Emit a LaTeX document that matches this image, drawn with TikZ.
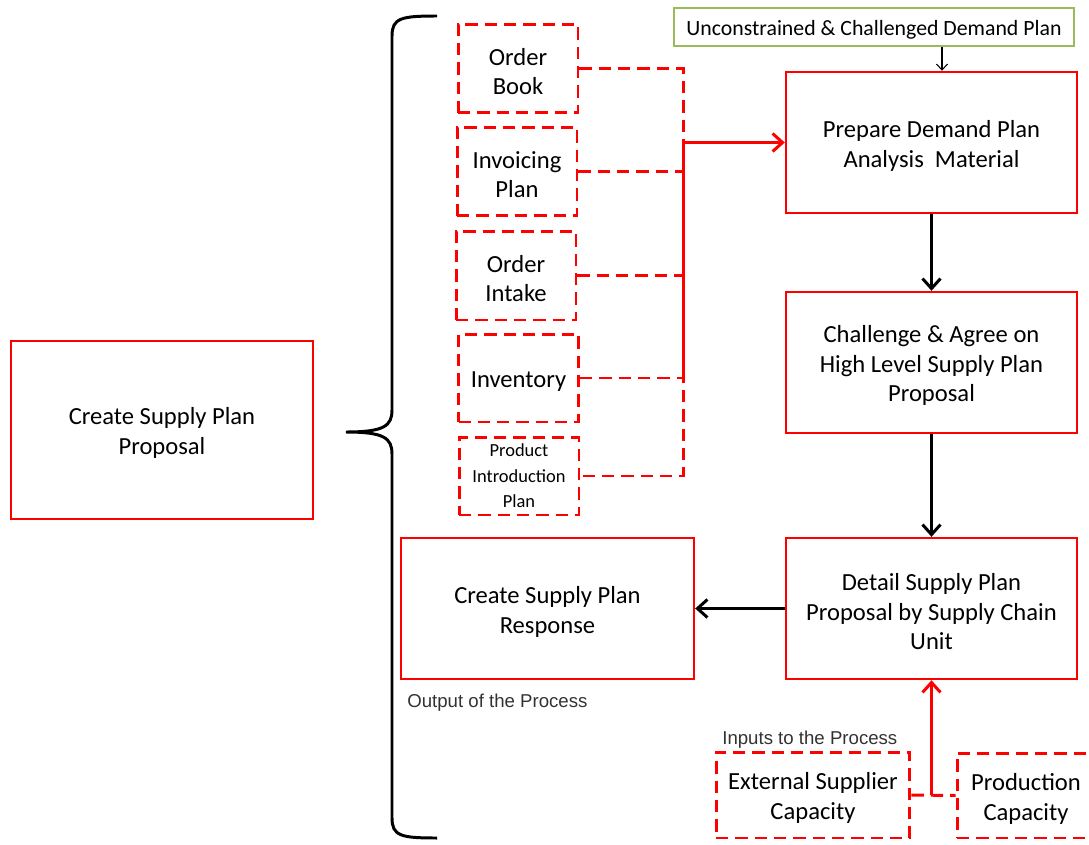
\documentclass[tikz,border=0pt]{standalone}
\usepackage{fontspec}
\setmainfont{Carlito}
\newfontfamily\notefont{Liberation Sans}
\usetikzlibrary{arrows.meta}

\definecolor{boxred}{RGB}{255,0,0}
\definecolor{planolive}{RGB}{155,187,89}
\definecolor{notegray}{RGB}{50,50,50}

\newcommand{\dropline}{\rule{0pt}{13.2pt}}

\tikzset{
  stepbox/.style={draw=boxred, line width=1.4pt, align=center, inner sep=2pt,
    font=\fontsize{14}{17}\selectfont},
  databox/.style={draw=boxred, line width=1.7pt, dash pattern=on 7pt off 4pt,
    align=center, inner sep=1pt, font=\fontsize{14}{17}\selectfont},
  dashlink/.style={draw=boxred, line width=1.7pt, dash pattern=on 7pt off 4pt},
  redlink/.style={draw=boxred, line width=1.7pt},
  flow/.style={line width=1.7pt, -{Straight Barb[length=2mm,width=3.6mm,line width=1.7pt]}},
  redflow/.style={redlink, -{Straight Barb[length=2mm,width=3.6mm,line width=1.7pt]}},
  note/.style={font=\notefont\fontsize{10.6}{12}\selectfont, text=notegray, inner sep=0pt}
}

\begin{document}
\begin{tikzpicture}[x=0.02cm, y=-0.02cm]
  \useasboundingbox (0,0) rectangle (1089,845);
  \clip (0,0) rectangle (1089,845);

  % main process
  \node[stepbox, minimum width=6.04cm, minimum height=3.56cm] (proposal) at (162,430) {\dropline Create Supply Plan\\Proposal};

  % the brace
  \draw[line width=1.7pt] (437,16) .. controls (401,16) and (392,18) .. (392,36) -- (392,410)
    .. controls (392,426) and (384,432) .. (346,432)
    .. controls (384,432) and (392,438) .. (392,454) -- (392,818)
    .. controls (392,836) and (401,838) .. (437,838);

  % input data
  \node[databox, minimum width=2.4cm, minimum height=1.78cm] (orderbook) at (518,68.5) {\dropline Order\\Book};
  \node[databox, minimum width=2.4cm, minimum height=1.78cm] (invoicing) at (517,171.5) {\dropline Invoicing\\Plan};
  \node[databox, minimum width=2.4cm, minimum height=1.78cm] (intake) at (516,275.5) {\dropline Order\\Intake};
  \node[databox, minimum width=2.4cm, minimum height=1.76cm] (inventory) at (518.5,378) {\dropline Inventory};
  \node[databox, minimum width=2.4cm, minimum height=1.56cm,
    font=\fontsize{10.5}{14.5}\selectfont] (prodintro) at (519,476) {Product\\Introduction\\Plan};

  % steps
  \node[draw=planolive, line width=1.2pt, minimum width=8cm, minimum height=0.76cm,
    font=\fontsize{12.4}{15}\selectfont] (demand) at (874,27) {\rule{0pt}{11.8pt}Unconstrained \& Challenged Demand Plan};
  \node[stepbox, minimum width=5.82cm, minimum height=2.82cm] (prepare) at (931.5,142.5) {\dropline Prepare Demand Plan\\Analysis\ \ Material};
  \node[stepbox, minimum width=5.82cm, minimum height=2.82cm] (challenge) at (931.5,362.5) {\dropline Challenge \& Agree on\\High Level Supply Plan\\Proposal};
  \node[stepbox, minimum width=5.82cm, minimum height=2.82cm] (detail) at (931.5,608.5) {\dropline Detail Supply Plan\\Proposal by Supply Chain\\Unit};
  \node[stepbox, minimum width=5.86cm, minimum height=2.82cm] (response) at (547.5,608.5) {\dropline Create Supply Plan\\Response};

  % capacities
  \node[databox, minimum width=3.88cm, minimum height=1.72cm] (external) at (813,795) {\dropline External Supplier\\Capacity};
  \node[databox, minimum width=2.76cm, minimum height=1.7cm] (production) at (1026,795.5) {\dropline Production\\Capacity};

  \node[note, anchor=base west] (outnote) at (407,707) {Output of the Process};
  \node[note, anchor=base west] (innote) at (722,744) {Inputs to the Process};

  % connectors
  \coordinate (bus) at (683,0);
  \coordinate (plantip) at (942,0);
  \draw[dashlink] (orderbook.east) -- (orderbook.east -| bus) -- (prodintro.east -| bus) -- (prodintro.east);
  \foreach \src in {invoicing,intake,inventory}
    \draw[dashlink] (\src.east) -- (\src.east -| bus);
  \draw[redlink] (inventory.east -| bus) -- (prepare.west -| bus);
  \draw[redflow] (prepare.west -| bus) -- (prepare.west);

  \draw[line width=0.6pt, -{Straight Barb[length=1.2mm,width=2.2mm]}] (demand.south -| plantip) -- (prepare.north -| plantip);
  \draw[flow] (prepare) -- (challenge);
  \draw[flow] (challenge) -- (detail);
  \draw[flow] (detail) -- (response);

  \draw[dashlink] (external.east) -- (production.west);
  \draw[redflow] (external.east -| detail.south) -- (detail.south);
\end{tikzpicture}
\end{document}
